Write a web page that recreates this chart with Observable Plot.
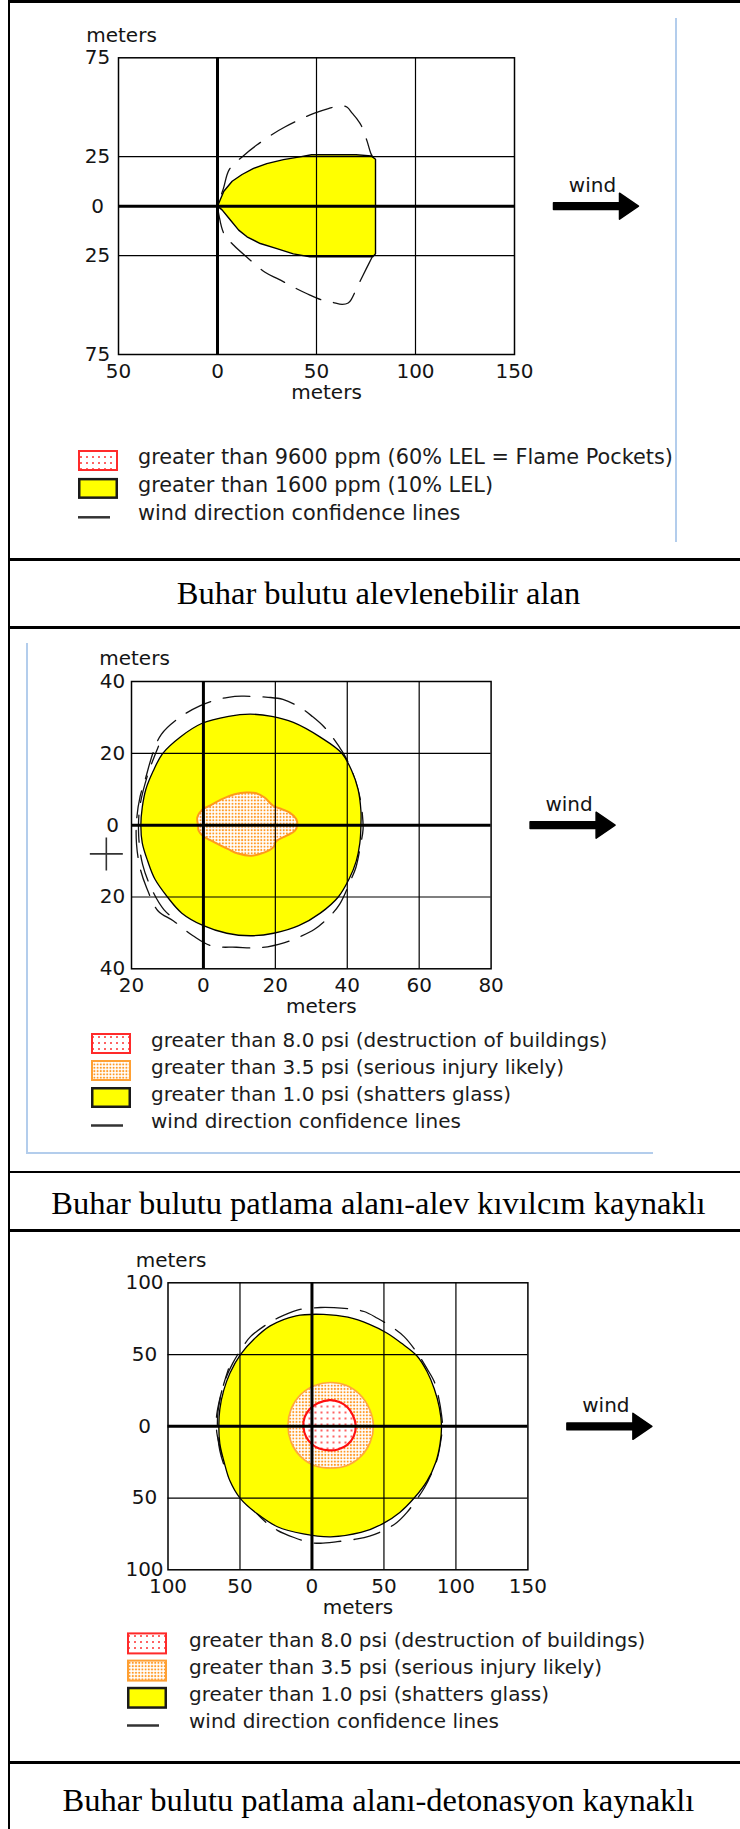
<!DOCTYPE html>
<html>
<head>
<meta charset="utf-8">
<script src="https://cdn.jsdelivr.net/npm/d3@7"></script>
<script src="https://cdn.jsdelivr.net/npm/@observablehq/plot@0.6"></script>
<style>
  html, body { margin: 0; padding: 0; background: #fff; }
  #page { position: relative; width: 740px; height: 1829px; overflow: hidden; background: #fff; }
  .abs { position: absolute; }
  .rule { position: absolute; background: #000; z-index: 5; }
  .blue { position: absolute; background: #b3cdec; z-index: 4; }
  .cap { position: absolute; left: 9.5px; width: 738px; text-align: center; font-family: "Liberation Serif", serif;
         font-size: 32.5px; line-height: 40px; color: #000; white-space: nowrap; z-index: 6; }
</style>
</head>
<body>
<div id="page"></div>
<script>
// ---------------- data ----------------
const captions = [
  "Buhar bulutu alevlenebilir alan",
  "Buhar bulutu patlama alanı-alev kıvılcım kaynaklı",
  "Buhar bulutu patlama alanı-detonasyon kaynaklı"
];
const axisTitle = "meters";
const windLabel = "wind";
const zeroLine = [0];

// Panel 1: flammable area (ppm)
const p1XTicks = [-50, 0, 50, 100, 150];
const p1YTicks = [75, 25, 0, -25, -75];
const p1GridX = [50, 100];
const p1GridY = [25, -25];
const p1Lel10 = [[0,0],[3.2,7.5],[7.4,12.6],[12.4,16],[18.2,19.1],[24.9,21.5],[33.3,23.5],[41.6,24.9],[47.5,26],[70,26],[77.6,25.4],[79.8,23.7],[79.8,-24.1],[78.4,-25.6],[46.7,-25.6],[38.3,-24.1],[30,-21.5],[21.6,-18.9],[14.9,-15.5],[10.7,-12.1],[6.5,-7],[2.3,-1.9]];
const p1ConfUpper = [[0,0],[3,9],[6,18.6],[13,25.4],[20,31],[28,36.5],[34,40],[42,44],[49,47],[56,49.3],[62,50.8],[65.5,50],[68,47],[70.5,44],[72.6,40.8],[75.5,33],[77.6,26.3],[79,24]];
const p1ConfLower = [[0,0],[0.7,-4.4],[3.2,-13.8],[8.2,-19.8],[16,-26.8],[24,-33.4],[30.8,-36.9],[38.5,-41],[46.7,-45],[52.5,-47.4],[58,-48.6],[63,-49.7],[66,-49],[67.8,-46.8],[69.3,-43.7],[72,-38],[75.1,-31.7],[78,-26]];
const p1LegendLabels = ["greater than 9600 ppm (60% LEL = Flame Pockets)", "greater than 1600 ppm (10% LEL)", "wind direction confidence lines"];
const p1LegendKinds = ["red", "yellow", "line"];

// Panel 2: blast area, deflagration (psi)
const p2XTicks = [-20, 0, 20, 40, 60, 80];
const p2YTicks = [40, 20, 0, -20, -40];
const p2GridX = [20, 40, 60];
const p2GridY = [20, -20];
const p2Psi1 = [[13,30.9],[19,30.3],[25,28.6],[32.5,24.5],[38.5,20],[41.3,15],[43,10],[43.8,4],[43.8,0],[43.5,-5],[42.5,-10],[40.5,-15],[37.5,-20],[32.5,-24.5],[26.5,-28],[19.5,-30.1],[13,-30.8],[6.5,-30.1],[0,-28],[-6,-24.5],[-10,-20],[-13.5,-15],[-15.5,-10],[-17,-5],[-17.4,0],[-17,5],[-16,10],[-14,15],[-11.3,20],[-6.5,24.5],[-0.5,28.3],[7,30.3]];
const p2Psi35 = [[-1.5,0],[-1.7,2.1],[-0.1,4.5],[1.8,5.4],[5,7.2],[8.7,8.6],[11.9,9.1],[14.7,8.9],[17,7.7],[19.4,5.4],[21.7,4.5],[24,3.5],[25.8,1.7],[26.1,0],[25.4,-1.6],[23,-3],[20.3,-4.4],[19.4,-6.2],[17,-7.6],[13.3,-8.5],[9.6,-7.9],[6.9,-6.7],[3.1,-4.8],[-0.1,-3],[-1.3,-1.6]];
const p2ConfOuter = [[10.6,35.9],[18,35.6],[22.1,35],[26.5,33],[30,30.5],[33.7,27.2],[38.8,20.2],[41.1,15.6],[43.4,8.2],[44.2,3],[44.4,-1.1],[43.8,-5],[42.4,-11.8],[41.1,-15],[37.9,-22],[35,-25.5],[30.9,-29],[27,-31],[22.6,-32.7],[16.1,-34.1],[9.2,-34],[2.2,-33.6],[-2.9,-30.8],[-8.4,-26.6],[-12.6,-23.9],[-15.8,-17.4],[-17.6,-12],[-18.6,-5.3],[-18.6,1.2],[-17.6,8],[-16.3,12.3],[-14,20.2],[-11.7,25.3],[-6.6,30],[-1,33.2],[4,35],[6.9,35.6]];
const p2ConfInner = [[-12.5,22],[-15.5,14],[-17.7,5],[-18,-3],[-16.9,-11],[-14.3,-18],[-11,-23.5],[-7,-27]];
const p2Marker = [[-27, -8]];
const p2LegendLabels = ["greater than 8.0 psi (destruction of buildings)", "greater than 3.5 psi (serious injury likely)", "greater than 1.0 psi (shatters glass)", "wind direction confidence lines"];
const p2LegendKinds = ["red", "orange", "yellow", "line"];

// Panel 3: blast area, detonation (psi)
const p3XTicks = [-100, -50, 0, 50, 100, 150];
const p3YTicks = [100, 50, 0, -50, -100];
const p3GridX = [-50, 50, 100];
const p3GridY = [50, -50];
const p3Psi1 = [[8,78],[25,76],[40,71],[52,65],[62,58],[73,49],[80,38],[85,26],[88.5,13],[90,0],[89,-12],[86,-25],[80,-38],[71,-50],[61,-60],[49,-68],[34,-74],[13,-77],[-6,-75],[-24,-70],[-38,-61],[-50,-50],[-57,-38],[-61,-25],[-64,-12],[-64.7,0],[-64,12],[-61.3,25],[-57,37],[-49.7,50],[-40,61],[-29,70],[-11,77]];
const p3Psi35 = [[13,30.5],[24,28.5],[33.5,22],[40,12],[42.7,0.5],[40.5,-11],[34,-21],[24,-27.5],[13,-29.1],[2,-27.5],[-8,-21],[-14.5,-11],[-16.7,0.5],[-14.5,12],[-8,22],[2,28.5]];
const p3Psi8 = [[12,18.2],[19,17],[24.5,13.5],[28.5,7.5],[30.4,0.5],[29,-7],[24.5,-13],[18,-16.2],[12,-16.8],[5,-15.5],[0,-12.5],[-4,-7.5],[-6,0],[-5,6.5],[-1.5,12],[4,16]];
const p3ConfOuter = [[-10.2,81],[6,82.8],[15.3,82.7],[26,81.8],[36.2,80],[45.5,75.3],[55,69.5],[64,62.5],[73.3,50.8],[80,40],[85,31],[88,20],[90,8],[90.7,0],[89.8,-8],[87.2,-22],[83,-33],[78,-43],[73,-50.6],[66,-60],[59,-67],[50,-72.5],[40,-76.5],[31.5,-78.5],[17.6,-80.4],[6,-81.5],[-1,-81],[-12.5,-77.5],[-24,-72.5],[-33,-66],[-40.4,-58.5],[-49.7,-48.5],[-55,-38],[-60,-27.3],[-63.5,-16],[-66,-5],[-66.4,5.4],[-64.5,17],[-60,33],[-55,44],[-47.3,56.6],[-42.7,62.5],[-33,70],[-24,75.3]];
const p3ConfInner = [[-58,40],[-62.5,25],[-65.3,10],[-65.6,-3],[-64,-17],[-60,-30],[-53,-45]];
const p3LegendLabels = p2LegendLabels;
const p3LegendKinds = p2LegendKinds;

// ---------------- helpers ----------------
const page = document.getElementById("page");
const FONT = "DejaVu Sans";
const absLabel = d => String(Math.abs(d));
const px = d => d[0], py = d => d[1];

const windArrowSymbol = {
  draw(ctx, size) {
    const k = Math.sqrt(size / Math.PI) / 43;
    ctx.moveTo(-43 * k, -3.4 * k);
    ctx.lineTo(23 * k, -3.4 * k);
    ctx.lineTo(23 * k, -13 * k);
    ctx.lineTo(42 * k, 0);
    ctx.lineTo(23 * k, 13 * k);
    ctx.lineTo(23 * k, 3.4 * k);
    ctx.lineTo(-43 * k, 3.4 * k);
    ctx.closePath();
  }
};
const thinPlus = {
  draw(ctx, size) {
    const r = Math.sqrt(size / Math.PI);
    ctx.moveTo(-r, 0); ctx.lineTo(r, 0);
    ctx.moveTo(0, -r); ctx.lineTo(0, r);
  }
};

function addPatterns(svg, id) {
  const defs = d3.select(svg).insert("defs", ":first-child");
  const r = defs.append("pattern").attr("id", "red-" + id).attr("patternUnits", "userSpaceOnUse")
    .attr("width", 6).attr("height", 6);
  r.append("rect").attr("width", 6).attr("height", 6).attr("fill", "#fff");
  r.append("circle").attr("cx", 3).attr("cy", 3).attr("r", 0.95).attr("fill", "#ff2020");
  const o = defs.append("pattern").attr("id", "orange-" + id).attr("patternUnits", "userSpaceOnUse")
    .attr("width", 3.2).attr("height", 3.3);
  o.append("rect").attr("width", 3.2).attr("height", 3.3).attr("fill", "#fff");
  o.append("circle").attr("cx", 1.6).attr("cy", 1.65).attr("r", 1.05).attr("fill", "#ff9a26");
}

function panel(cfg) {
  const W = 740;
  const f = cfg.frame;
  const marks = [];
  for (const c of cfg.conf) {
    marks.push(Plot.line(c.points, {x: px, y: py, curve: c.closed ? "catmull-rom-closed" : "catmull-rom",
      stroke: "#111", strokeWidth: 1.3, strokeDasharray: "27,13", strokeDashoffset: c.offset || 0}));
  }
  for (const z of cfg.zones) {
    marks.push(Plot.line(z.points, {x: px, y: py, curve: z.curve, fill: z.fill, stroke: z.stroke, strokeWidth: z.sw}));
  }
  marks.push(
    Plot.ruleX(cfg.gridX, {stroke: "#000", strokeWidth: 1.2}),
    Plot.ruleY(cfg.gridY, {stroke: "#000", strokeWidth: 1.2}),
    Plot.ruleX(zeroLine, {stroke: "#000", strokeWidth: 3}),
    Plot.ruleY(zeroLine, {stroke: "#000", strokeWidth: 3}),
    Plot.frame({stroke: "#000", strokeWidth: 1.5}),
    Plot.axisX(cfg.xTicks, {anchor: "bottom", tickSize: 0, tickPadding: 9, tickFormat: absLabel, label: null}),
    Plot.axisY(cfg.yTicks, {anchor: "left", tickSize: 0, tickPadding: cfg.yPad, textAnchor: "middle", tickFormat: absLabel, label: null}),
    Plot.text([axisTitle], {frameAnchor: "top-left", dx: 3, dy: -22.5, textAnchor: "middle", lineAnchor: "middle"}),
    Plot.text([axisTitle], {frameAnchor: "bottom", dx: 10, dy: 38, textAnchor: "middle", lineAnchor: "middle"}),
    Plot.text([windLabel], {frameAnchor: "right", dx: 78, dy: -20.5, textAnchor: "middle", lineAnchor: "middle"}),
    Plot.dot(zeroLine, {y: d => d, frameAnchor: "right", dx: 82, symbol: windArrowSymbol, r: 43,
      fill: "#000", stroke: "#000", strokeWidth: 1.5, strokeLinejoin: "round"})
  );
  if (cfg.marker) {
    marks.push(Plot.dot(cfg.marker, {x: px, y: py, symbol: thinPlus, r: 16.5, fill: "none", stroke: "#333", strokeWidth: 1.6}));
  }
  const svg = Plot.plot({
    width: W,
    height: cfg.height,
    marginLeft: f.left,
    marginRight: W - f.right,
    marginTop: f.top - cfg.top,
    marginBottom: cfg.top + cfg.height - f.bottom,
    x: {domain: cfg.xDomain},
    y: {domain: cfg.yDomain},
    style: {fontFamily: FONT, fontSize: "20px", background: "transparent", maxWidth: "none", color: "#141414", overflow: "visible"},
    marks
  });
  addPatterns(svg, cfg.id);
  svg.classList.add("abs");
  svg.style.left = "0px";
  svg.style.top = cfg.top + "px";
  page.appendChild(svg);
}

function legend(cfg) {
  const svg = d3.create("svg").attr("width", 740).attr("height", cfg.height)
    .attr("class", "abs").style("left", "0px").style("top", cfg.top + "px");
  addPatterns(svg.node(), "lg" + cfg.id);
  cfg.labels.forEach((label, i) => {
    const base = cfg.baseline0 + i * cfg.step - cfg.top;
    const kind = cfg.kinds[i];
    if (kind === "line") {
      svg.append("line").attr("x1", cfg.swatchX).attr("x2", cfg.swatchX + 32)
        .attr("y1", base - 2.8).attr("y2", base - 2.8).attr("stroke", "#333").attr("stroke-width", 2.5);
    } else {
      const style = {
        red: {fill: `url(#red-lg${cfg.id})`, stroke: "#ff2a2a", sw: 2},
        orange: {fill: `url(#orange-lg${cfg.id})`, stroke: "#ffa033", sw: 2},
        yellow: {fill: "#ffff00", stroke: "#1a1a1a", sw: 2.5}
      }[kind];
      svg.append("rect").attr("x", cfg.swatchX + style.sw / 2).attr("y", base - 14.3 + style.sw / 2)
        .attr("width", 40 - style.sw).attr("height", cfg.boxH - style.sw)
        .attr("fill", style.fill).attr("stroke", style.stroke).attr("stroke-width", style.sw);
    }
    svg.append("text").attr("x", cfg.textX).attr("y", base).text(label)
      .attr("font-family", FONT).attr("font-size", cfg.fontSize).attr("fill", "#1b1b1b");
  });
  page.appendChild(svg.node());
}

function rule(left, top, width, height, cls) {
  const d = document.createElement("div");
  d.className = cls || "rule";
  Object.assign(d.style, {left: left + "px", top: top + "px", width: width + "px", height: height + "px"});
  page.appendChild(d);
}

// ---------------- panels ----------------
panel({
  id: 1, top: 0, height: 430,
  frame: {left: 118, right: 514, top: 57.3, bottom: 354},
  xDomain: [-50, 150], yDomain: [-75, 75],
  xTicks: p1XTicks, yTicks: p1YTicks, gridX: p1GridX, gridY: p1GridY, yPad: 21,
  conf: [{points: p1ConfUpper, offset: 27}, {points: p1ConfLower, offset: 0}],
  zones: [{points: p1Lel10, curve: "linear-closed", fill: "#ffff00", stroke: "#000", sw: 1.4}]
});
legend({id: 1, top: 430, height: 110, swatchX: 78, textX: 138, baseline0: 464.3, step: 27.9, boxH: 21, fontSize: 20.8,
  labels: p1LegendLabels, kinds: p1LegendKinds});

panel({
  id: 2, top: 630, height: 400,
  frame: {left: 131, right: 490.6, top: 681, bottom: 968.3},
  xDomain: [-20, 80], yDomain: [-40, 40],
  xTicks: p2XTicks, yTicks: p2YTicks, gridX: p2GridX, gridY: p2GridY, yPad: 19,
  conf: [{points: p2ConfOuter, closed: true}, {points: p2ConfInner, offset: 8}],
  zones: [
    {points: p2Psi1, curve: "catmull-rom-closed", fill: "#ffff00", stroke: "#000", sw: 1.3},
    {points: p2Psi35, curve: "catmull-rom-closed", fill: "url(#orange-2)", stroke: "#ff9a1a", sw: 2}
  ],
  marker: p2Marker
});
legend({id: 2, top: 1010, height: 140, swatchX: 91, textX: 151, baseline0: 1047.3, step: 27, boxH: 21, fontSize: 20,
  labels: p2LegendLabels, kinds: p2LegendKinds});

panel({
  id: 3, top: 1235, height: 400,
  frame: {left: 167.5, right: 527.4, top: 1282.3, bottom: 1569.3},
  xDomain: [-100, 150], yDomain: [-100, 100],
  xTicks: p3XTicks, yTicks: p3YTicks, gridX: p3GridX, gridY: p3GridY, yPad: 23.5,
  conf: [{points: p3ConfOuter, closed: true}, {points: p3ConfInner, offset: 10}],
  zones: [
    {points: p3Psi1, curve: "catmull-rom-closed", fill: "#ffff00", stroke: "#000", sw: 1.3},
    {points: p3Psi35, curve: "catmull-rom-closed", fill: "url(#orange-3)", stroke: "#ffa83a", sw: 1.6},
    {points: p3Psi8, curve: "catmull-rom-closed", fill: "url(#red-3)", stroke: "#ff1010", sw: 2.2}
  ]
});
legend({id: 3, top: 1615, height: 140, swatchX: 127, textX: 189, baseline0: 1646.7, step: 27.2, boxH: 22, fontSize: 20,
  labels: p3LegendLabels, kinds: p3LegendKinds});

// light-blue image edges
rule(675, 18, 1.8, 524, "blue");
rule(26, 643, 2, 511, "blue");
rule(26, 1151.7, 627, 2.5, "blue");

// table borders
rule(7.5, 0, 2, 1829);
rule(7.5, 0, 740, 2.5);
[558.3, 626, 1170.7, 1229.3, 1761.3].forEach(y => rule(7.5, y, 740, 2.5));

// captions
const capBaselines = [604, 1214, 1810.5];
captions.forEach((t, i) => {
  const d = document.createElement("div");
  d.className = "cap";
  d.style.top = (capBaselines[i] - 31) + "px";
  d.textContent = t;
  page.appendChild(d);
});
</script>
</body>
</html>
